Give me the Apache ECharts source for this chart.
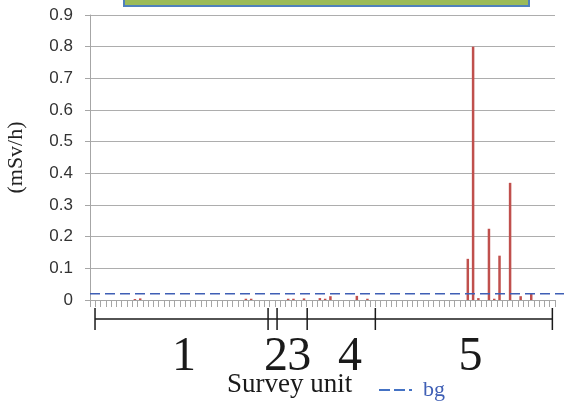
<!DOCTYPE html>
<html>
<head>
<meta charset="utf-8">
<script src="https://cdn.jsdelivr.net/npm/echarts@6/dist/echarts.min.js"></script>
<style>
html,body{margin:0;padding:0;background:#fff;}
#chart{width:564px;height:403px;}
</style>
</head>
<body>
<div id="chart"></div>
<script>
// ---- data ----
const categories = [];
for (let i = 1; i <= 88; i++) categories.push(String(i));
const doseRate = [
  0, 0, 0, 0, 0, 0, 0, 0, 0.003, 0.005,
  0, 0, 0, 0, 0, 0, 0, 0, 0, 0,
  0, 0, 0, 0, 0, 0, 0, 0, 0, 0.004,
  0.004, 0, 0, 0, 0, 0, 0, 0.004, 0.004, 0,
  0.005, 0, 0, 0.006, 0.004, 0.012, 0, 0, 0, 0,
  0.013, 0, 0.004, 0, 0, 0, 0, 0, 0, 0,
  0, 0, 0, 0, 0, 0, 0, 0, 0, 0,
  0, 0.13, 0.80, 0.006, 0, 0.225, 0.004, 0.14, 0, 0.37,
  0, 0.012, 0, 0.02, 0, 0, 0, 0
];
const bgLevel = 0.02;
const unitLabels = ['1', '2', '3', '4', '5'];
// unit bracket boundaries and label centres, in category units from the left edge
const unitBounds = [0.95, 33.7, 35.4, 41.1, 54.0, 87.5];
const unitLabelPos = [17.8, 35.2, 39.6, 49.2, 72.0];
const yTicks = [0, 0.1, 0.2, 0.3, 0.4, 0.5, 0.6, 0.7, 0.8, 0.9];

const N = categories.length;
const chart = echarts.init(document.getElementById('chart'), null, {renderer: 'canvas'});

const option = {
  animation: false,
  backgroundColor: '#ffffff',
  title: {
    text: 'Survey unit',
    left: 222, top: 366,
    textStyle: {fontFamily: 'Liberation Serif', fontSize: 27, fontWeight: 'normal', color: '#1a1a1a'}
  },
  legend: {
    data: [{name: 'bg', icon: 'path://M0,0h11v2h-11z M15,0h11v2h-11z M30,0h3v2h-3z'}],
    left: 374, top: 374,
    itemWidth: 33, itemHeight: 2, itemGap: 0,
    selectedMode: false,
    textStyle: {fontFamily: 'Liberation Serif', fontSize: 22, color: '#3F5FB5', padding: [0,0,0,6]}
  },
  grid: {left: 90, right: 9, top: 15, bottom: 103, containLabel: false, outerBoundsMode: 'none'},
  xAxis: {
    type: 'category',
    data: categories,
    boundaryGap: true,
    axisLine: {show: true, lineStyle: {color: '#A6A6A6', width: 1}},
    axisTick: {show: true, interval: 0, length: 7, inside: false, lineStyle: {color: '#A6A6A6', width: 1}},
    axisLabel: {show: false},
    splitLine: {show: false}
  },
  yAxis: {
    type: 'value',
    min: 0, max: 0.9, interval: 0.1,
    name: '(mSv/h)',
    nameLocation: 'middle',
    nameRotate: 90,
    nameGap: 63,
    nameTextStyle: {fontFamily: 'Liberation Serif', fontSize: 22, color: '#222'},
    axisLine: {show: true, lineStyle: {color: '#A6A6A6', width: 1}},
    axisTick: {show: true, length: 5, lineStyle: {color: '#A6A6A6'}},
    axisLabel: {
      margin: 17,
      fontFamily: 'Liberation Sans', fontSize: 17, color: '#333',
      formatter: function (v) {
        const t = yTicks.find(function (k) { return Math.abs(k - v) < 1e-9; });
        return t === 0 ? '0' : String(+t.toFixed(1));
      }
    },
    splitLine: {show: true, lineStyle: {color: '#ADADAD', width: 1}}
  },
  graphic: [{
    type: 'rect',
    shape: {x: 124, y: -3, width: 405, height: 9},
    style: {fill: '#9BBB59', stroke: '#4F81BD', lineWidth: 2}
  }],
  series: [
    {
      name: 'dose',
      type: 'bar',
      data: doseRate,
      barWidth: 2.5,
      itemStyle: {color: '#C0504D'},
      z: 3
    },
    {
      name: 'bg',
      type: 'custom',
      data: [[0, bgLevel]],
      encode: {x: 0, y: 1},
      z: 4,
      itemStyle: {color: '#4472C4'},
      renderItem: function (params, api) {
        const cs = params.coordSys;
        const y = api.coord([0, api.value(1)])[1];
        return {
          type: 'line',
          shape: {x1: cs.x, y1: y, x2: cs.x + cs.width + 9, y2: y},
          style: {stroke: '#3F5FB5', lineWidth: 1.5, lineDash: [10, 5]}
        };
      }
    },
    {
      name: 'units',
      type: 'custom',
      data: [[0, 0]],
      encode: {x: 0, y: 1},
      silent: true,
      renderItem: function (params, api) {
        const cs = params.coordSys;
        const y0 = api.coord([0, 0])[1];
        const px = function (b) { return cs.x + b * cs.width / N; };
        const children = [];
        const lineStyle = {stroke: '#1a1a1a', lineWidth: 1.5};
        children.push({type: 'line', shape: {x1: px(unitBounds[0]), y1: y0 + 19, x2: px(unitBounds[unitBounds.length - 1]), y2: y0 + 19}, style: lineStyle});
        unitBounds.forEach(function (b) {
          children.push({type: 'line', shape: {x1: px(b), y1: y0 + 8, x2: px(b), y2: y0 + 30}, style: lineStyle});
        });
        unitLabels.forEach(function (t, i) {
          children.push({
            type: 'text',
            x: px(unitLabelPos[i]), y: y0 + 57,
            style: {text: t, fontFamily: 'Liberation Serif', fontSize: 48, fill: '#1a1a1a', align: 'center', verticalAlign: 'middle'}
          });
        });
        return {type: 'group', children: children};
      }
    }
  ]
};
chart.setOption(option);
</script>
</body>
</html>
